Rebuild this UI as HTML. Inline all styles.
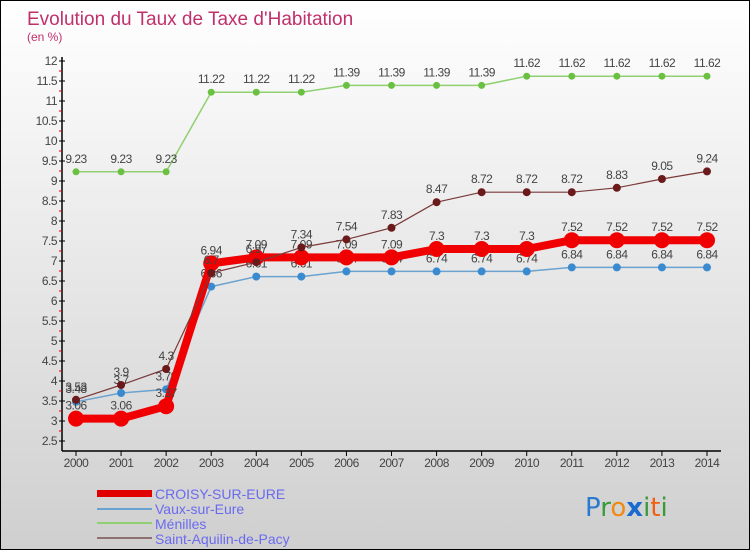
<!DOCTYPE html>
<html><head><meta charset="utf-8">
<style>
body{margin:0;}
#c{width:748px;height:548px;border:1px solid #000;position:relative;background:linear-gradient(#ffffff,#cfcfcf);overflow:hidden;font-family:"Liberation Sans",sans-serif;}
</style></head>
<body>
<div id="c">
<svg id="s" width="748" height="548" style="position:absolute;left:0;top:0">
<text x="26" y="24" font-size="19" fill="#c0306a">Evolution du Taux de Taxe d'Habitation</text>
<text x="26" y="40" font-size="12" fill="#c0306a">(en %)</text>
<g id="axes"></g>
<g id="series"></g>
<g id="legend">
<rect x="96" y="489" width="55" height="7" fill="#e00000"/>
<text x="154" y="498" font-size="14" fill="#6a6af0">CROISY-SUR-EURE</text>
<rect x="96" y="507" width="55" height="2" fill="#6aa2d0"/>
<text x="154" y="513" font-size="14" fill="#6a6af0">Vaux-sur-Eure</text>
<rect x="96" y="521" width="55" height="2" fill="#90d070"/>
<text x="154" y="528" font-size="14" fill="#6a6af0">Ménilles</text>
<rect x="96" y="536" width="55" height="2" fill="#907070"/>
<text x="154" y="543" font-size="14" fill="#6a6af0">Saint-Aquilin-de-Pacy</text>
</g>
<g font-size="26" font-family="'DejaVu Sans',sans-serif">
<text x="584" y="515"><tspan fill="#2a7ad0">P</tspan><tspan fill="#3a9a3a">r</tspan><tspan fill="#f08a10">o</tspan><tspan fill="#1a6ad0" font-weight="bold">x</tspan><tspan fill="#3a9a3a">i</tspan><tspan fill="#f06010">t</tspan><tspan fill="#3a9a3a">i</tspan></text>
</g>
</svg>
</div>
<script>
const years=[2000,2001,2002,2003,2004,2005,2006,2007,2008,2009,2010,2011,2012,2013,2014];
const croisy=[3.06,3.06,3.37,6.94,7.09,7.09,7.09,7.09,7.3,7.3,7.3,7.52,7.52,7.52,7.52];
const vaux=[3.48,3.7,3.79,6.36,6.61,6.61,6.74,6.74,6.74,6.74,6.74,6.84,6.84,6.84,6.84];
const menilles=[9.23,9.23,9.23,11.22,11.22,11.22,11.39,11.39,11.39,11.39,11.62,11.62,11.62,11.62,11.62];
const aquilin=[3.53,3.9,4.3,6.7,6.97,7.34,7.54,7.83,8.47,8.72,8.72,8.72,8.83,9.05,9.24];
const yTicks=[2.5,3,3.5,4,4.5,5,5.5,6,6.5,7,7.5,8,8.5,9,9.5,10,10.5,11,11.5,12];
const NS="http://www.w3.org/2000/svg";
const xS=i=>75+i*(706-75)/(years.length-1);
const yS=v=>440-(v-2.5)*40;
function mk(tag,attrs,parent){const e=document.createElementNS(NS,tag);for(const k in attrs)e.setAttribute(k,attrs[k]);parent.appendChild(e);return e;}
const ax=document.getElementById('axes');
let e=mk('line',{x1:61,y1:56,x2:61,y2:450,stroke:'#000','stroke-width':1.5},ax);


e=mk('line',{x1:61,y1:450,x2:720,y2:450,stroke:'#000','stroke-width':1.5},ax);


yTicks.forEach(v=>{
  const y=yS(v);
  mk('line',{x1:58,y1:y,x2:64,y2:y,stroke:'#000'},ax);
  if(v<12){mk('line',{x1:58,y1:y-10,x2:61,y2:y-10,stroke:'#e00000'},ax);}
  const t=mk('text',{x:56,y:y+4,'text-anchor':'end','font-size':12,fill:'#444','letter-spacing':'-0.5'},ax);
  t.textContent=String(v);
  
  
});
years.forEach((yr,i)=>{
  const x=xS(i);
  mk('line',{x1:x,y1:450,x2:x,y2:455,stroke:'#000'},ax);
  const t=mk('text',{x:x,y:466,'text-anchor':'middle','font-size':12,fill:'#444','letter-spacing':'-0.5'},ax);
  t.textContent=String(yr);
  
  
});
const sg=document.getElementById('series');
function drawSeries(data,name,color,w,r,ptColor){
  const g=mk('g',{},sg);
  
  
  const pts=data.map((v,i)=>xS(i)+','+yS(v)).join(' ');
  mk('polyline',{points:pts,fill:'none',stroke:color,'stroke-width':w,'stroke-linejoin':'round'},g);
  data.forEach((v,i)=>{
    const c=mk('circle',{cx:xS(i),cy:yS(v),r:r,fill:ptColor},g);
    
    
  });
  data.forEach((v,i)=>{
    const t=mk('text',{x:xS(i),y:yS(v)-9,'text-anchor':'middle','font-size':12,fill:'#444','letter-spacing':'-0.5'},g);
    t.textContent=String(v);
    
    
  });
}
drawSeries(menilles,'menilles','#90d070',1.5,3.5,'#6ac040');
drawSeries(vaux,'vaux','#6aa2d0',1.5,4,'#3a8ad0');
drawSeries(croisy,'croisy','#f00000',8,8,'#f00000');
drawSeries(aquilin,'saint-aquilin','#7a3a3a',1.2,4,'#6a1a1a');
</script>
</body></html>
